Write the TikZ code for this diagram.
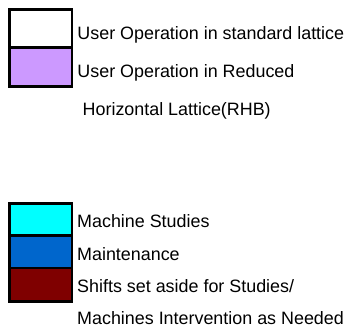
\documentclass[tikz,border=0pt]{standalone}
\usepackage{fontspec}
\setmainfont{Liberation Sans}
\definecolor{lavenderswatch}{HTML}{CC99FF}
\definecolor{cyanswatch}{HTML}{00FFFF}
\definecolor{blueswatch}{HTML}{0066CC}
\definecolor{maroonswatch}{HTML}{7F0000}
\begin{document}
\begin{tikzpicture}[x=1pt,y=-1pt,
  swatch/.style={draw=black,line width=2.8pt},
  label/.style={anchor=base west,inner sep=0pt,font=\fontsize{17.9}{20}\selectfont,text=black}]
\useasboundingbox (0,0) rectangle (354,331);
% top group
\path[swatch,fill=white] (9.5,9.3) rectangle (72,47.3);
\path[swatch,fill=lavenderswatch] (9.5,47.3) rectangle (72,86.2);
% bottom group
\path[swatch,fill=cyanswatch] (9.5,203.5) rectangle (72,235.5);
\path[swatch,fill=blueswatch] (9.5,235.5) rectangle (72,268);
\path[swatch,fill=maroonswatch] (9.5,268) rectangle (72,301.2);
% labels
\node[label] (t1) at (77.3,39.3) {User Operation in standard lattice};
\node[label] (t2) at (77.3,77.3) {User Operation in Reduced};
\node[label] (t3) at (82.5,115.5) {Horizontal Lattice(RHB)};
\node[label] (t4) at (77,227.7) {Machine Studies};
\node[label] (t5) at (77,261) {Maintenance};
\node[label] (t6) at (77,292.7) {Shifts set aside for Studies/};
\node[label] (t7) at (77,325) {Machines Intervention as Needed};
\end{tikzpicture}
\end{document}
